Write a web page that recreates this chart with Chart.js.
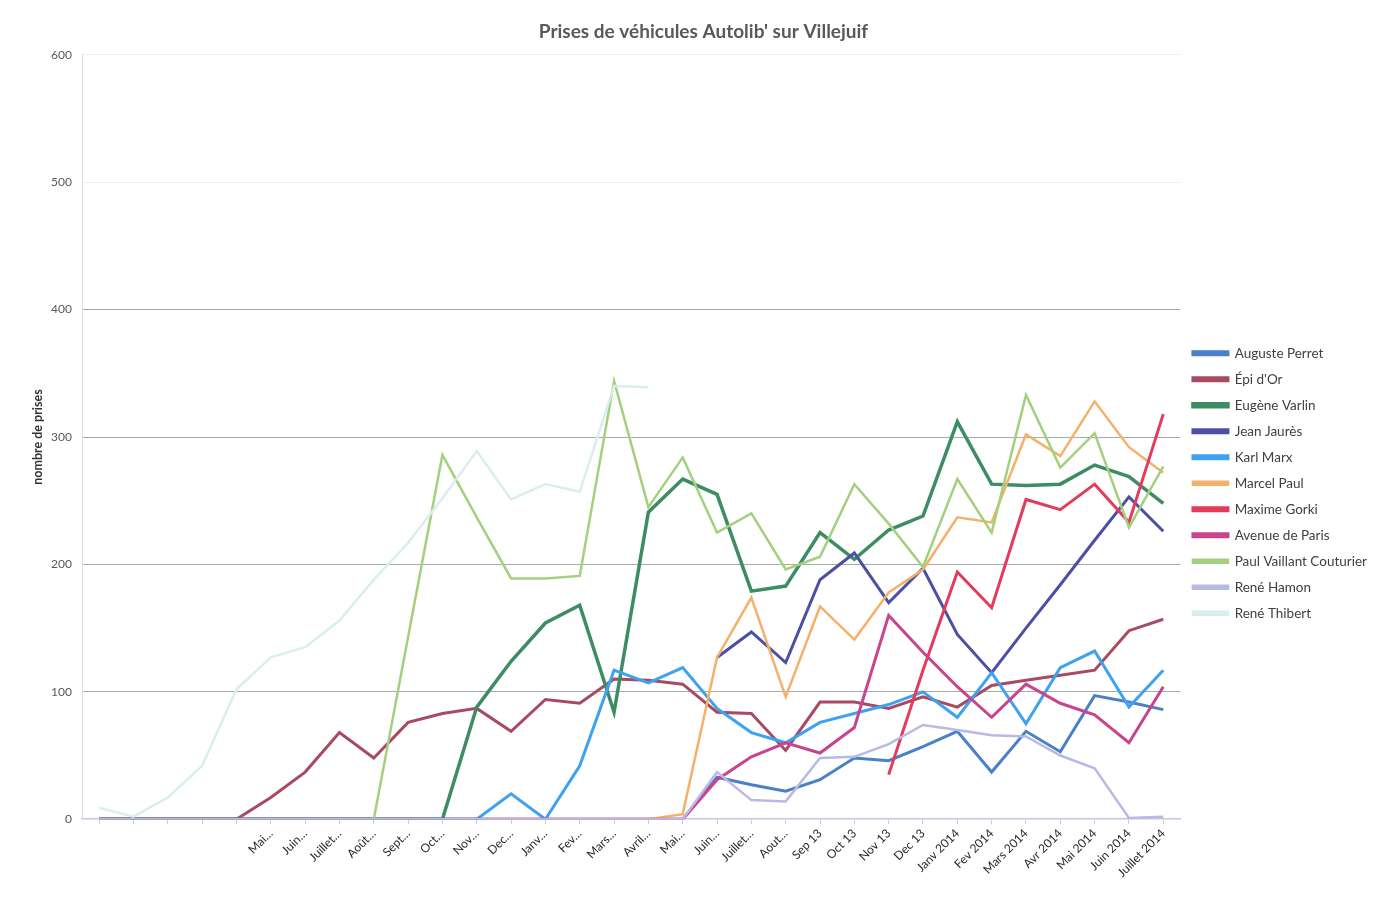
<!DOCTYPE html>
<html>
<head>
<meta charset="utf-8">
<script src="https://cdn.jsdelivr.net/npm/chart.js@4.4.1/dist/chart.umd.min.js"></script>
<style>
  html, body { margin: 0; padding: 0; background: #fff; }
  #wrap { width: 1386px; height: 915px; }
</style>
</head>
<body>
<div id="wrap"><canvas id="autolibChart" width="1386" height="915"></canvas></div>
<script>
    // Mois (les 5 premiers sans étiquette)
    const months = ['', '', '', '', '', 'Mai…', 'Juin…', 'Juillet…', 'Août…', 'Sept…', 'Oct…', 'Nov…', 'Dec…', 'Janv…', 'Fev…', 'Mars…', 'Avril…', 'Mai…', 'Juin…', 'Juillet…', 'Aout…', 'Sep 13', 'Oct 13', 'Nov 13', 'Dec 13', 'Janv 2014', 'Fev 2014', 'Mars 2014', 'Avr 2014', 'Mai 2014', 'Juin 2014', 'Juillet 2014'];
    const yTicks = [0, 100, 200, 300, 400, 500, 600];

    const N = null;
    const augustePerret = [0,0,0,0,0,0,0,0,0,0,0,0,0,0,0,0,0,0, 33,27,22,31,48,46,57,69,37,69,53,97,92,86];
    const epiDOr = [0,0,0,0,0, 17,37,68,48,76,83,87,69,94,91,110,109,106,84,83,54,92,92,87,96,88,105,109,113,117,148,157];
    const eugeneVarlin = [0,0,0,0,0,0,0,0,0,0,0, 88,124,154,168,84,241,267,255,179,183,225,204,227,238,312,263,262,263,278,269,248];
    const jeanJaures = [N,N,N,N,N,N,N,N,N,N,N,N,N,N,N,N,N,N, 127,147,123,188,209,170,197,145,115,150,184,219,253,226];
    const karlMarx = [0,0,0,0,0,0,0,0,0,0,0,0, 20,0,42,117,107,119,87,68,60,76,83,90,100,80,115,75,119,132,88,117];
    const marcelPaul = [0,0,0,0,0,0,0,0,0,0,0,0,0,0,0,0,0, 4,127,174,96,167,141,178,196,237,233,302,285,328,292,272];
    const maximeGorki = [N,N,N,N,N,N,N,N,N,N,N,N,N,N,N,N,N,N,N,N,N,N,N, 35,117,194,166,251,243,263,233,318];
    const avenueDeParis = [0,0,0,0,0,0,0,0,0,0,0,0,0,0,0,0,0,0, 31,49,60,52,72,160,131,104,80,106,91,82,60,104];
    const paulVaillant = [0,0,0,0,0,0,0,0,0, 143,286,237,189,189,191,344,245,284,225,240,196,206,263,232,198,267,225,333,276,303,229,277];
    const reneHamon = [0,0,0,0,0,0,0,0,0,0,0,0,0,0,0,0,0,0, 37,15,14,48,49,59,74,70,66,65,50,40,1,2];
    const reneThibert = [9,2,17,42,102,127,135,156,188,217,252,289,251,263,257,340,339, N,N,N,N,N,N,N,N,N,N,N,N,N,N,N];

    const series = [
        { label: 'Auguste Perret', data: augustePerret, color: '#4a7fc9', width: 3 },
        { label: 'Épi d\'Or', data: epiDOr, color: '#a84a62', width: 3 },
        { label: 'Eugène Varlin', data: eugeneVarlin, color: '#3d8c63', width: 3.5 },
        { label: 'Jean Jaurès', data: jeanJaures, color: '#4c4fa3', width: 3 },
        { label: 'Karl Marx', data: karlMarx, color: '#3ea2f0', width: 3 },
        { label: 'Marcel Paul', data: marcelPaul, color: '#f5b06a', width: 2.5 },
        { label: 'Maxime Gorki', data: maximeGorki, color: '#e23c5a', width: 3 },
        { label: 'Avenue de Paris', data: avenueDeParis, color: '#c8448e', width: 3 },
        { label: 'Paul Vaillant Couturier', data: paulVaillant, color: '#a3d07e', width: 2.5 },
        { label: 'René Hamon', data: reneHamon, color: '#b9b9e6', width: 2.5 },
        { label: 'René Thibert', data: reneThibert, color: '#d9eeee', width: 2.5 }
    ];

    const ctx = document.getElementById('autolibChart').getContext('2d');

    const autolibChart = new Chart(ctx, {
        type: 'line',
        data: {
            labels: months,
            datasets: series.map((s, i) => ({
                label: s.label,
                data: s.data,
                borderColor: s.color,
                backgroundColor: s.color,
                borderWidth: s.width,
                pointRadius: 0,
                tension: 0,
                spanGaps: false,
                // la dernière série est dessinée au-dessus, comme dans Excel
                order: series.length - i
            }))
        },
        options: {
            responsive: false,
            animation: false,
            layout: { padding: { left: 30, right: 9, top: 10, bottom: 33 } },
            plugins: {
                title: {
                    display: true,
                    text: 'Prises de véhicules Autolib\' sur Villejuif',
                    color: '#595959',
                    font: { family: 'Lato', size: 19, weight: 'bold' },
                    padding: { top: 10, bottom: 12 }
                },
                legend: {
                    position: 'right',
                    title: { display: true, text: '', padding: { top: 0, bottom: 60 } },
                    labels: {
                        boxWidth: 35,
                        boxHeight: 3,
                        padding: 12.5,
                        color: '#404040',
                        font: { family: 'Lato', size: 13.5 },
                        sort: (a, b) => a.datasetIndex - b.datasetIndex
                    }
                },
                tooltip: { enabled: false }
            },
            scales: {
                x: {
                    offset: true,
                    grid: {
                        display: true,
                        drawOnChartArea: false,
                        tickLength: 5,
                        color: '#c8cfe0'
                    },
                    border: { color: '#c3c8de', width: 1.5 },
                    ticks: {
                        autoSkip: false,
                        minRotation: 45,
                        maxRotation: 45,
                        color: '#2a2a2a',
                        font: { family: 'Lato', size: 12 },
                        padding: 2
                    }
                },
                y: {
                    min: 0,
                    max: 600,
                    afterBuildTicks: axis => { axis.ticks = yTicks.map(v => ({ value: v })); },
                    afterFit: axis => { axis.width = 52; },
                    grid: {
                        drawTicks: false,
                        color: c => c.tick.value === 0 ? 'rgba(0,0,0,0)' : (c.tick.value > 400 ? '#eeeeee' : '#a9a9a9')
                    },
                    border: { display: true, color: '#dcdcdc' },
                    ticks: {
                        color: '#595959',
                        padding: 10,
                        font: { family: 'Lato', size: 12 }
                    },
                    title: {
                        display: true,
                        text: 'nombre de prises',
                        color: '#333333',
                        font: { family: 'Lato', size: 12.5, weight: 'bold' },
                        padding: { top: 0, bottom: 8 }
                    }
                }
            }
        }
    });
</script>
</body>
</html>
